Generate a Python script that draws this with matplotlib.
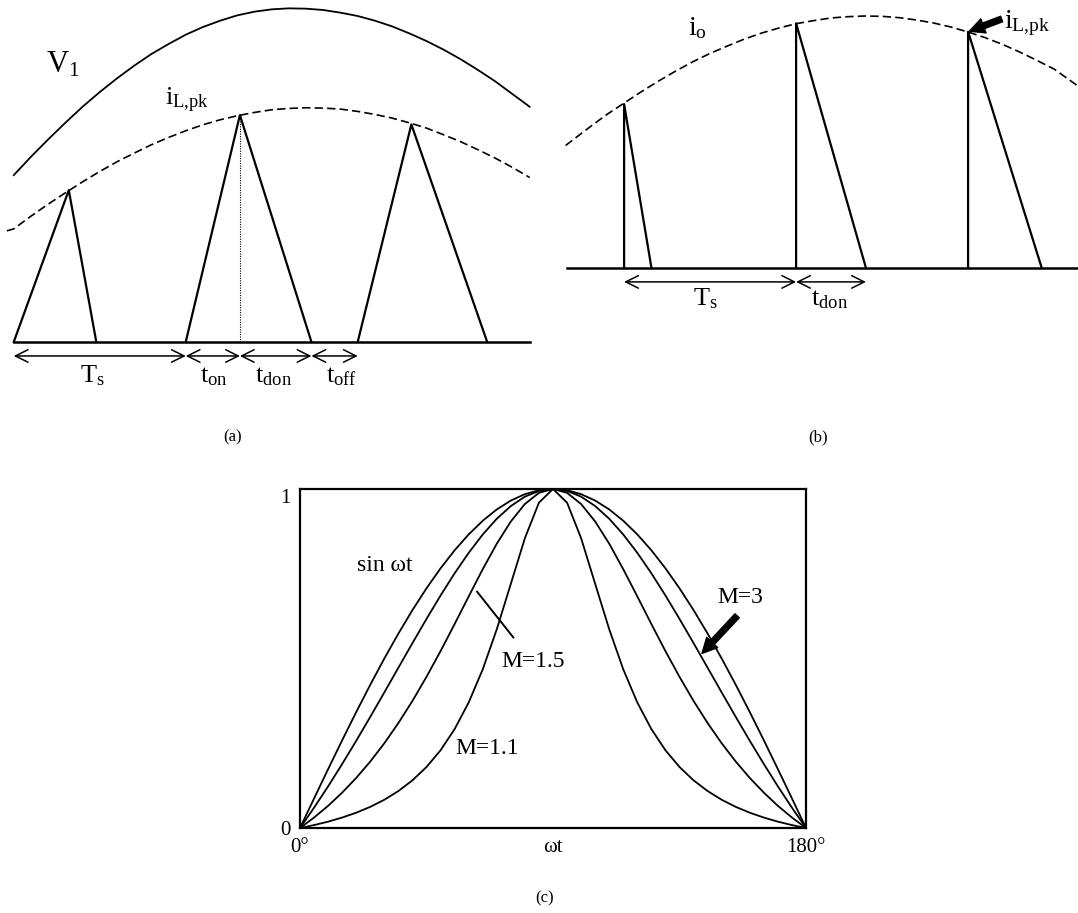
import numpy as np
import matplotlib.pyplot as plt

plt.rcParams['font.family'] = 'Liberation Serif'
plt.rcParams['mathtext.fontset'] = 'custom'
plt.rcParams['mathtext.rm'] = 'Liberation Serif'
plt.rcParams['mathtext.it'] = 'Liberation Serif:italic'

# ---- (a) DCM boost: time in switching periods, amplitude relative to V1 peak
t_v1 = [0, 0.1, 0.2, 0.3, 0.4, 0.5, 0.6, 0.7, 0.8, 0.9, 1.0, 1.1, 1.2, 1.3, 1.4, 1.5,
        1.6, 1.7, 1.8, 1.9, 2.0, 2.1, 2.2, 2.3, 2.4, 2.5, 2.6, 2.7, 2.8, 2.9, 3.0]
v1 = [0.500, 0.555, 0.607, 0.657, 0.705, 0.749, 0.790, 0.828, 0.863, 0.893, 0.921,
      0.944, 0.963, 0.979, 0.990, 0.997, 1.000, 0.999, 0.995, 0.987, 0.977, 0.963,
      0.946, 0.925, 0.902, 0.876, 0.847, 0.815, 0.781, 0.743, 0.705]

t_pk_a = [-0.04, 0, 0.1, 0.2, 0.3, 0.4, 0.5, 0.6, 0.7, 0.8, 0.9, 1.0, 1.1, 1.2, 1.3, 1.4,
          1.5, 1.6, 1.7, 1.8, 1.9, 2.0, 2.1, 2.2, 2.3, 2.4, 2.5, 2.6, 2.7, 2.8, 2.9, 3.0]
ilpk_a = [0.333, 0.339, 0.377, 0.413, 0.447, 0.480, 0.511, 0.540, 0.566, 0.591, 0.613,
          0.633, 0.651, 0.666, 0.678, 0.688, 0.696, 0.700, 0.702, 0.701, 0.698, 0.691,
          0.682, 0.671, 0.657, 0.641, 0.621, 0.600, 0.576, 0.551, 0.523, 0.493]

tri_start = [0, 1, 2]
tri_apex_t = [0.32, 1.315, 2.312]
tri_apex_v = [0.455, 0.680, 0.652]
tri_end = [0.48, 1.731, 2.753]

a_marks = [0, 1, 1.315, 1.731, 2.0]
a_labels = [r'$\mathrm{T_s}$', r'$\mathrm{t_{on}}$', r'$\mathrm{t_{don}}$', r'$\mathrm{t_{off}}$']
a_label_t = [0.46, 1.165, 1.513, 1.908]

# ---- (b) output current pulses
t_pk_b = [-0.34, -0.2, -0.1, 0, 0.1, 0.2, 0.3, 0.4, 0.5, 0.6, 0.7, 0.8, 0.9, 1.0, 1.1,
          1.2, 1.3, 1.4, 1.5, 1.6, 1.7, 1.8, 1.9, 2.0, 2.1, 2.2, 2.3, 2.4, 2.5, 2.639]
io_b = [0.367, 0.422, 0.460, 0.494, 0.528, 0.560, 0.590, 0.618, 0.643, 0.665, 0.686,
        0.704, 0.719, 0.732, 0.741, 0.749, 0.753, 0.755, 0.754, 0.750, 0.743, 0.734,
        0.722, 0.707, 0.690, 0.670, 0.647, 0.622, 0.596, 0.545]

spike_t = [0, 1, 2]
spike_v = [0.491, 0.733, 0.708]
spike_end = [0.159, 1.406, 2.428]

b_marks = [0, 1, 1.406]
b_labels = [r'$\mathrm{T_s}$', r'$\mathrm{t_{don}}$']
b_label_t = [0.47, 1.196]

# ---- (c) normalised input current over a half line cycle (rising half, 5 deg steps)
theta_half = np.arange(0, 91, 5)
sin_half = [0, 0.0872, 0.1736, 0.2588, 0.3420, 0.4226, 0.5, 0.5736, 0.6428, 0.7071,
            0.7660, 0.8192, 0.8660, 0.9063, 0.9397, 0.9659, 0.9848, 0.9962, 1.0]
m3_half = [0, 0.0599, 0.1228, 0.1888, 0.2573, 0.3279, 0.4, 0.4728, 0.5454, 0.6168,
           0.6858, 0.7513, 0.8116, 0.8657, 0.9122, 0.9497, 0.9774, 0.9943, 1.0]
m15_half = [0, 0.0309, 0.0654, 0.1043, 0.1477, 0.1961, 0.25, 0.3096, 0.3749, 0.4459,
            0.5218, 0.6016, 0.6830, 0.7633, 0.8386, 0.9042, 0.9557, 0.9887, 1.0]
m11_half = [0, 0.0086, 0.0187, 0.0308, 0.0451, 0.0624, 0.0833, 0.1090, 0.1406, 0.1800,
            0.2293, 0.2917, 0.3701, 0.4679, 0.5862, 0.7203, 0.8549, 0.9597, 1.0]


def full_cycle(half):
    half = list(half)
    return half + half[-2::-1]


theta = np.concatenate([theta_half, 180 - theta_half[-2::-1]])

W, H = 1078, 913


def box(x0, y0, x1, y1):
    # axes rectangle from pixel edges, y counted from the top
    return [x0 / W, 1 - y1 / H, (x1 - x0) / W, (y1 - y0) / H]


fig = plt.figure(figsize=(W / 100, H / 100), dpi=100)
fig.patch.set_facecolor('white')

arrow_kw = dict(arrowstyle='<->,head_length=0.6,head_width=0.3', lw=1.1,
                color='black', mutation_scale=15, shrinkA=0, shrinkB=0)
fat_arrow = dict(arrowstyle='simple,head_width=0.9,head_length=0.9,tail_width=0.35',
                 fc='black', ec='black', mutation_scale=12, shrinkA=0, shrinkB=0)

# ---------------- (a)
ax_a = fig.add_axes(box(0, 0, 540, 400))
ax_a.set_xlim(-0.08, 3.06)
ax_a.set_ylim(-0.174, 1.025)
ax_a.axis('off')

ax_a.plot([0, 3], [0, 0], color='black', lw=1.8)
ax_a.plot(t_v1, v1, color='black', lw=1.3)
ax_a.plot(t_pk_a, ilpk_a, color='black', lw=1.2, dashes=(5, 2.5))
for s, tp, vp, e in zip(tri_start, tri_apex_t, tri_apex_v, tri_end):
    ax_a.plot([s, tp, e], [0, vp, 0], color='black', lw=1.6)
ax_a.plot([tri_apex_t[1]] * 2, [0, tri_apex_v[1]], color='black', lw=0.8,
          ls=(0, (1, 1.2)))

for t0, t1 in zip(a_marks[:-1], a_marks[1:]):
    ax_a.annotate('', xy=(t1, -0.042), xytext=(t0, -0.042), arrowprops=arrow_kw)
for lab, tx in zip(a_labels, a_label_t):
    ax_a.text(tx, -0.12, lab, ha='center', va='baseline', fontsize=19)

ax_a.text(0.286, 0.83, r'$\mathrm{V_1}$', ha='center', va='center', fontsize=22)
ax_a.text(0.88, 0.71, r'$\mathrm{i_{L{,}pk}}$', ha='left', va='baseline', fontsize=19)

# ---------------- (b)
ax_b = fig.add_axes(box(540, 0, 1078, 400))
ax_b.set_xlim(-0.489, 2.639)
ax_b.set_ylim(-0.396, 0.803)
ax_b.axis('off')

ax_b.plot([-0.33, 2.639], [0, 0], color='black', lw=1.8)
ax_b.plot(t_pk_b, io_b, color='black', lw=1.2, dashes=(5, 2.5))
for s, vp, e in zip(spike_t, spike_v, spike_end):
    ax_b.plot([s, s, e], [0, vp, 0], color='black', lw=1.6)

for t0, t1 in zip(b_marks[:-1], b_marks[1:]):
    ax_b.annotate('', xy=(t1, -0.042), xytext=(t0, -0.042), arrowprops=arrow_kw)
for lab, tx in zip(b_labels, b_label_t):
    ax_b.text(tx, -0.111, lab, ha='center', va='baseline', fontsize=19)

ax_b.text(0.369, 0.698, r'$\mathrm{i_o}$', ha='left', va='baseline', fontsize=20)
ax_b.annotate('', xy=(spike_t[2], spike_v[2]), xytext=(2.195, 0.746),
              arrowprops=dict(fat_arrow, shrinkB=1))
ax_b.text(2.21, 0.719, r'$\mathrm{i_{L{,}pk}}$', ha='left', va='baseline', fontsize=20)

# ---------------- (c)
ax_c = fig.add_axes(box(300, 489, 806, 828))
ax_c.set_xlim(0, 180)
ax_c.set_ylim(0, 1)
for half in (sin_half, m3_half, m15_half, m11_half):
    ax_c.plot(theta, full_cycle(half), color='black', lw=1.3)
for sp in ax_c.spines.values():
    sp.set_linewidth(1.6)

ax_c.set_xticks([0, 90, 180])
ax_c.set_xticklabels(['0°', 'ωt', '180°'], fontsize=15)
ax_c.set_yticks([0, 1])
ax_c.set_yticklabels(['0', '1'], fontsize=15)
ax_c.tick_params(length=0, pad=7)
ax_c.get_yticklabels()[1].set_va('top')

ax_c.text(30, 0.775, 'sin ωt', ha='center', va='center', fontsize=17)
ax_c.text(82.9, 0.49, 'M=1.5', ha='center', va='center', fontsize=17)
ax_c.text(66.6, 0.234, 'M=1.1', ha='center', va='center', fontsize=17)
ax_c.text(156.6, 0.679, 'M=3', ha='center', va='center', fontsize=17)

ax_c.plot([63.0, 75.9], [0.697, 0.562], color='black', lw=1.4)
ax_c.annotate('', xy=(143.0, 0.515), xytext=(155.5, 0.626), arrowprops=fat_arrow)

# panel captions
fig.text(233 / W, 1 - 437 / H, '(a)', ha='center', va='center', fontsize=12)
fig.text(818 / W, 1 - 437 / H, '(b)', ha='center', va='center', fontsize=12)
fig.text(545 / W, 1 - 898 / H, '(c)', ha='center', va='center', fontsize=12)

fig.savefig('out.png', dpi=100)
